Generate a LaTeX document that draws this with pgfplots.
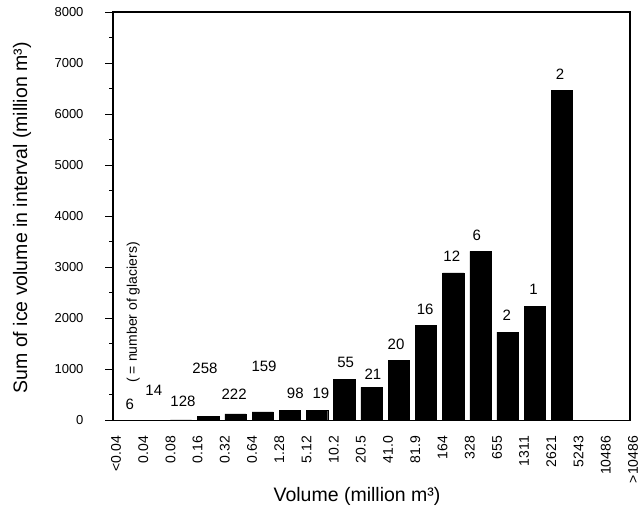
\documentclass[border=0pt]{standalone}
\usepackage{fontspec}
\setmainfont{Liberation Sans}
\usepackage{pgfplots}
\pgfplotsset{compat=1.18}

% total ice volume (million m^3) in each volume class; classes sit between the boundary ticks
\pgfplotstableread{
x     vol
0.5   0.2
1.5   1
2.5   13
3.5   80
4.5   130
5.5   170
6.5   200
7.5   200
8.5   800
9.5   650
10.5  1180
11.5  1870
12.5  2890
13.5  3310
14.5  1730
15.5  2240
16.5  6460
}\voltable

\begin{document}
\begin{tikzpicture}
\begin{axis}[
  scale only axis,
  width=517pt, height=408.5pt,
  xmin=0, xmax=19, ymin=0, ymax=8000,
  clip=false,
  axis line style={line width=1.4pt},
  every tick/.style={black, line width=1pt},
  tick align=outside,
  xtick pos=bottom, ytick pos=left,
  xtick={0,...,19},
  xtick style={draw=none},
  minor xtick={0,...,19},
  xticklabels={<0.04,0.04,0.08,0.16,0.32,0.64,1.28,5.12,10.2,20.5,41.0,81.9,164,328,655,1311,2621,5243,10486,>10486},
  major tick length=8pt,
  minor tick length=4pt,
  ytick={0,1000,...,8000},
  minor ytick={500,1500,...,7500},
  /pgf/number format/assume math mode=true,
  /pgf/number format/1000 sep={},
  xticklabel style={font=\fontsize{14}{16}\selectfont, xshift=3pt, yshift=-4pt, rotate=90, anchor=east},
  yticklabel style={font=\fontsize{13}{15}\selectfont, xshift=-18pt},
  xlabel={Volume (million m³)},
  ylabel={Sum of ice volume in interval (million m³)},
  label style={font=\fontsize{19.5}{22}\selectfont},
  xlabel style={at={(axis description cs:0.472,-0.187)}, anchor=center},
  ylabel style={at={(axis description cs:-0.176,0.496)}, anchor=center, rotate=0},
]
\addplot[ybar, bar width=0.78, fill=black, draw=black] table[x=x, y=vol] {\voltable};

% number of glaciers in each class
\begin{scope}[every node/.style={font=\fontsize{15}{17}\selectfont, anchor=center, inner sep=0pt}]
\node at (axis cs:0.62,325)  {6};
\node at (axis cs:1.5,600)   {14};
\node at (axis cs:2.57,370)  {128};
\node at (axis cs:3.38,1015) {258};
\node at (axis cs:4.45,520)  {222};
\node at (axis cs:5.55,1055) {159};
\node at (axis cs:6.7,540)   {98};
\node at (axis cs:7.64,540)  {19};
\node at (axis cs:8.55,1130) {55};
\node at (axis cs:9.55,915)  {21};
\node at (axis cs:10.4,1490) {20};
\node at (axis cs:11.47,2180) {16};
\node at (axis cs:12.45,3220) {12};
\node at (axis cs:13.37,3620) {6};
\node at (axis cs:14.47,2060) {2};
\node at (axis cs:15.45,2570) {1};
\node at (axis cs:16.43,6790) {2};
\end{scope}
\node[rotate=90, font=\fontsize{14}{16}\selectfont, anchor=center] at (axis cs:0.74,2118) {( = number of glaciers)};

% page frame
\path (rel axis cs:-0.2186,-0.2264) rectangle (rel axis cs:1.0251,1.0294);
\end{axis}
\end{tikzpicture}
\end{document}
